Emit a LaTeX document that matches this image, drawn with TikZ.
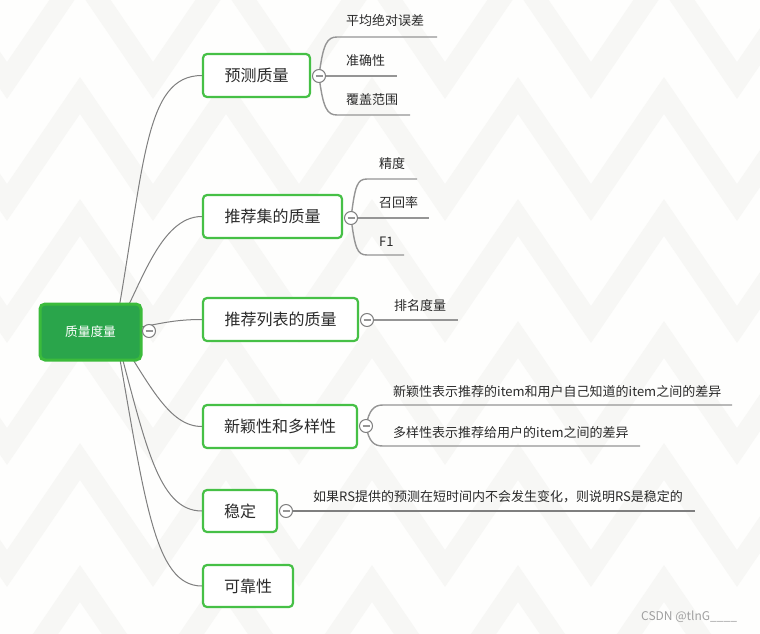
\documentclass[tikz,border=0pt]{standalone}
\usepackage{fontspec}
\setmainfont{Noto Sans CJK SC}
\definecolor{bgc}{HTML}{FEFEFD}
\definecolor{stripe}{HTML}{F7F7F5}
\definecolor{nodeborder}{HTML}{46C046}
\definecolor{rootfill}{HTML}{2AA54B}
\definecolor{rootborder}{HTML}{3BBB3B}
\definecolor{txt}{HTML}{2A2A2A}
\definecolor{conn}{HTML}{7F7F7F}
\definecolor{brc}{HTML}{959595}
\definecolor{wm}{HTML}{A0A0A0}
\tikzset{
  topic/.style={draw=nodeborder, line width=2.2pt, fill=white, rounded corners=4pt,
    minimum height=43pt, inner sep=0pt, text=txt, font=\fontsize{16}{18}\selectfont},
  rootbox/.style={draw=rootborder, line width=3pt, fill=rootfill, rounded corners=5pt,
    minimum width=101pt, minimum height=56pt, inner sep=0pt, text=white,
    font=\fontsize{12.7}{14}\selectfont},
  leaf/.style={anchor=west, inner sep=0pt, text=txt, font=\fontsize{13}{15}\selectfont},
  collapse/.style={circle, draw=conn, line width=1pt, fill=white, minimum size=13pt, inner sep=0pt,
    path picture={\draw[brc, line width=2pt] ([xshift=-3.5pt]path picture bounding box.center) -- ([xshift=3.5pt]path picture bounding box.center);}},
  rootconn/.style={draw=conn, line width=1pt},
  branch/.style={draw=brc, line width=1.4pt},
}
\begin{document}
\begin{tikzpicture}[x=1pt, y=-1pt]
\useasboundingbox (0,0) rectangle (760,634);
% background
\fill[bgc] (0,0) rectangle (760,634);
\begin{scope}
\clip (0,0) rectangle (760,634);
\foreach \k in {-2,...,5} {
  \pgfmathsetmacro{\py}{95.5+122*\k}
  \pgfmathsetmacro{\vy}{\py+107}
  \draw[stripe, line width=20.8pt, line join=miter]
    (-139,\vy) -- (-66,\py) -- (7,\vy) -- (80,\py) -- (153,\vy) -- (226,\py) -- (299,\vy)
    -- (372,\py) -- (445,\vy) -- (518,\py) -- (591,\vy) -- (664,\py) -- (737,\vy) -- (810,\py) -- (883,\vy);
}
\end{scope}

% topic nodes
\coordinate (r0) at (115,331);
\node[topic, minimum width=107pt] (n1) at (256.5,75.5) {预测质量};
\node[topic, minimum width=139pt] (n2) at (272.5,216.5) {推荐集的质量};
\node[topic, minimum width=155pt] (n3) at (280.5,319.5) {推荐列表的质量};
\node[topic, minimum width=154pt] (n4) at (280,426.5) {新颖性和多样性};
\node[topic, minimum width=74pt, minimum height=42pt] (n5) at (240,511) {稳定};
\node[topic, minimum width=90pt, minimum height=42pt] (n6) at (248,586) {可靠性};

% root connectors
\draw[rootconn] (r0) .. controls +(30,-166) and +(-58,0) .. (n1.west);
\draw[rootconn] (r0) .. controls +(25,-41) and +(-43,0) .. (n2.west);
\draw[rootconn] (r0) .. controls +(40,-5) and +(-35,0) .. (n3.west);
\draw[rootconn] (r0) .. controls +(35,54) and +(-33,0) .. (n4.west);
\draw[rootconn] (r0) .. controls +(30,109) and +(-45,0) .. (n5.west);
\draw[rootconn] (r0) .. controls +(30,169) and +(-48,0) .. (n6.west);

\node[rootbox] (root) at (90.5,332) {质量度量};

% collapse circle positions
\coordinate (c0) at (149,331);
\coordinate (c1) at (319,76);
\coordinate (c2) at (351,218);
\coordinate (c3) at (367,320);
\coordinate (c4) at (366,426);
\coordinate (c5) at (286,511);

% branch end coordinates
\coordinate (u11) at (337,37);  \coordinate (u11e) at (437,37);
\coordinate (u12e) at (397,76);
\coordinate (u13) at (337,115); \coordinate (u13e) at (410,115);
\coordinate (u21) at (367,179); \coordinate (u21e) at (417,179);
\coordinate (u22e) at (429,218);
\coordinate (u23) at (367,255); \coordinate (u23e) at (404,255);
\coordinate (u31e) at (458,320);
\coordinate (u41) at (383,405); \coordinate (u41e) at (732,405);
\coordinate (u42) at (383,446); \coordinate (u42e) at (640,446);
\coordinate (u51e) at (695,511);

\draw[branch] (c1) .. controls +(4,-32) and +(-10,0) .. (u11) -- (u11e);
\draw[branch] (c1) -- (u12e);
\draw[branch] (c1) .. controls +(4,32) and +(-10,0) .. (u13) -- (u13e);
\draw[branch] (c2) .. controls +(4,-32) and +(-10,0) .. (u21) -- (u21e);
\draw[branch] (c2) -- (u22e);
\draw[branch] (c2) .. controls +(4,30) and +(-10,0) .. (u23) -- (u23e);
\draw[branch] (c3) -- (u31e);
\draw[branch] (c4) .. controls +(3,-16) and +(-9,0) .. (u41) -- (u41e);
\draw[branch] (c4) .. controls +(3,16) and +(-9,0) .. (u42) -- (u42e);
\draw[branch, draw=conn] (c5) -- (u51e);

% collapse circles
\node[collapse] (k0) at (c0) {};
\node[collapse] (k1) at (c1) {};
\node[collapse] (k2) at (c2) {};
\node[collapse] (k3) at (c3) {};
\node[collapse] (k4) at (c4) {};
\node[collapse] (k5) at (c5) {};

% leaf texts
\node[leaf] (t11) at (346,21) {平均绝对误差};
\node[leaf] (t12) at (346,61) {准确性};
\node[leaf] (t13) at (346,100) {覆盖范围};
\node[leaf] (t21) at (379,164) {精度};
\node[leaf] (t22) at (379,203) {召回率};
\node[leaf] (t23) at (379,242) {F1};
\node[leaf] (t31) at (394,306) {排名度量};
\node[leaf] (t41) at (393,392) {新颖性表示推荐的item和用户自己知道的item之间的差异};
\node[leaf] (t42) at (393,433) {多样性表示推荐给用户的item之间的差异};
\node[leaf] (t51) at (313,497) {如果RS提供的预测在短时间内不会发生变化，则说明RS是稳定的};

% watermark
\node[anchor=west, inner sep=0pt, text=wm, font=\fontsize{12}{14}\selectfont] (wmk) at (641,617) {CSDN @tlnG\_\_\_\_};
\end{tikzpicture}
\end{document}
